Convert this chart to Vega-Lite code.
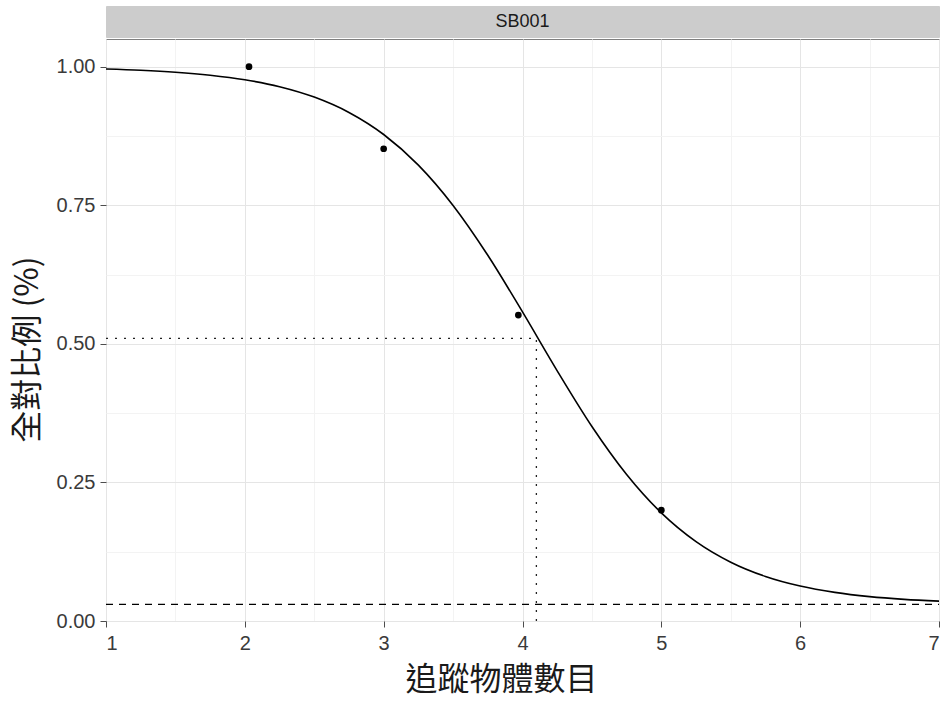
{
  "$schema": "https://vega.github.io/schema/vega-lite/v6.json",
  "background": "white",
  "padding": {"left": 10, "top": 5, "right": 0, "bottom": 0},
  "spacing": 0,
  "config": {
    "font": "Liberation Sans",
    "concat": {"spacing": 0}
  },
  "datasets": {
    "curve": [
      {"x": 1.0, "y": 0.9959}, {"x": 1.25, "y": 0.9936}, {"x": 1.5, "y": 0.9901}, {"x": 1.75, "y": 0.9847},
      {"x": 2.0, "y": 0.9765}, {"x": 2.25, "y": 0.964}, {"x": 2.5, "y": 0.9452}, {"x": 2.75, "y": 0.9175},
      {"x": 3.0, "y": 0.8777}, {"x": 3.25, "y": 0.8225}, {"x": 3.5, "y": 0.7497}, {"x": 3.75, "y": 0.6598},
      {"x": 4.0, "y": 0.5576}, {"x": 4.25, "y": 0.4514}, {"x": 4.5, "y": 0.351}, {"x": 4.75, "y": 0.2644},
      {"x": 5.0, "y": 0.1951}, {"x": 5.25, "y": 0.1432}, {"x": 5.5, "y": 0.1061}, {"x": 5.75, "y": 0.0804},
      {"x": 6.0, "y": 0.0631}, {"x": 6.25, "y": 0.0516}, {"x": 6.5, "y": 0.044}, {"x": 6.75, "y": 0.0391},
      {"x": 7.0, "y": 0.0359}
    ],
    "points": [
      {"x": 2.03, "y": 1.0}, {"x": 3.0, "y": 0.852}, {"x": 3.97, "y": 0.552}, {"x": 5.0, "y": 0.2}
    ],
    "hline": [{"x": 1, "x2": 7, "y": 0.03}],
    "dotted_h": [{"x": 1, "x2": 4.1, "y": 0.51}],
    "dotted_v": [{"x": 4.1, "y": 0, "y2": 0.51}],
    "strip": [{"panel": "SB001"}]
  },
  "vconcat": [
    {
      "width": 833,
      "height": 31,
      "view": {"fill": "#cccccc", "stroke": "#cccccc"},
      "data": {"name": "strip"},
      "mark": {"type": "text", "fontSize": 18, "color": "#1a1a1a", "font": "Liberation Sans", "baseline": "middle", "align": "center"},
      "encoding": {"text": {"field": "panel"}}
    },
    {
      "width": 833,
      "height": 582,
      "view": {"stroke": "#7f7f7f", "strokeWidth": 1},
      "resolve": {"axis": {"x": "independent", "y": "independent"}},
      "layer": [
        {
          "data": {"name": "hline"},
          "mark": {"type": "rule", "color": "#000000", "strokeDash": [7, 6], "strokeWidth": 1.3},
          "encoding": {
            "x": {"field": "x", "type": "quantitative", "scale": {"domain": [1, 7], "nice": false, "zero": false},
              "axis": {"orient": "bottom", "values": [1.5, 2.5, 3.5, 4.5, 5.5, 6.5], "labels": false, "ticks": false, "domain": false, "title": null, "gridColor": "#f3f3f3", "gridWidth": 1}},
            "x2": {"field": "x2"},
            "y": {"field": "y", "type": "quantitative", "scale": {"domain": [0, 1.05], "nice": false, "zero": false},
              "axis": {"orient": "left", "values": [0.125, 0.375, 0.625, 0.875], "labels": false, "ticks": false, "domain": false, "title": null, "gridColor": "#f3f3f3", "gridWidth": 1}}
          }
        },
        {
          "data": {"name": "curve"},
          "mark": {"type": "line", "color": "#000000", "strokeWidth": 1.6, "interpolate": "monotone"},
          "encoding": {
            "x": {"field": "x", "type": "quantitative",
              "axis": {"orient": "bottom", "values": [1, 2, 3, 4, 5, 6, 7], "format": "d", "title": "追蹤物體數目", "domain": false,
                "grid": true, "gridColor": "#e5e5e5", "gridWidth": 1,
                "tickColor": "#4d4d4d", "tickSize": 6, "labelPadding": 6, "labelColor": "#3a3a3a", "labelFontSize": 20, "labelFont": "Liberation Sans",
                "titleFont": "Noto Sans CJK TC", "titleFontSize": 32, "titleFontWeight": "normal", "titleColor": "#1a1a1a", "titlePadding": 11, "titleX": 395}},
            "y": {"field": "y", "type": "quantitative",
              "axis": {"orient": "left", "values": [0, 0.25, 0.5, 0.75, 1.0], "format": ".2f", "title": "全對比例 (%)", "domain": false,
                "grid": true, "gridColor": "#e5e5e5", "gridWidth": 1,
                "tickColor": "#4d4d4d", "tickSize": 6, "labelPadding": 5, "labelColor": "#3a3a3a", "labelFontSize": 20, "labelFont": "Liberation Sans",
                "titleFont": "Noto Sans CJK TC", "titleFontSize": 32, "titleFontWeight": "normal", "titleColor": "#1a1a1a", "titlePadding": 12, "titleY": 310}}
          }
        },
        {
          "data": {"name": "dotted_h"},
          "mark": {"type": "rule", "color": "#222222", "strokeDash": [2, 7], "strokeWidth": 1.3},
          "encoding": {
            "x": {"field": "x", "type": "quantitative", "axis": null},
            "x2": {"field": "x2"},
            "y": {"field": "y", "type": "quantitative", "axis": null}
          }
        },
        {
          "data": {"name": "dotted_v"},
          "mark": {"type": "rule", "color": "#222222", "strokeDash": [2, 7], "strokeWidth": 1.3},
          "encoding": {
            "x": {"field": "x", "type": "quantitative", "axis": null},
            "y": {"field": "y", "type": "quantitative", "axis": null},
            "y2": {"field": "y2"}
          }
        },
        {
          "data": {"name": "points"},
          "mark": {"type": "circle", "color": "#000000", "opacity": 1, "size": 45},
          "encoding": {
            "x": {"field": "x", "type": "quantitative", "axis": null},
            "y": {"field": "y", "type": "quantitative", "axis": null}
          }
        }
      ]
    }
  ]
}
